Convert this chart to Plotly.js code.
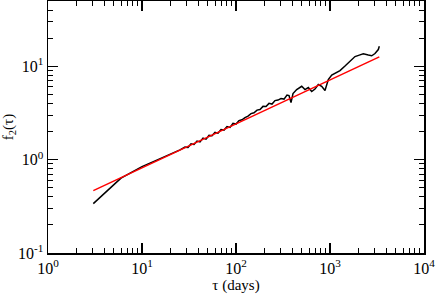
<!DOCTYPE html>
<html>
<head>
<meta charset="utf-8">
<script src="https://cdn.plot.ly/plotly-3.0.1.min.js"></script>
<style>
  html, body { margin: 0; padding: 0; background: #fff; }
  #chart { width: 436px; height: 300px; }
</style>
</head>
<body>
<div id="chart"></div>
<script>
// measured structure function f2(tau)
var tauData = [3.033, 3.488, 4.041, 4.566, 5.162, 5.978, 7.098, 8.424, 10.0, 12.16,
    14.80, 18.00, 21.90, 25.37, 28.67, 30.86, 33.21, 35.74, 38.47, 41.40,
    44.56, 47.96, 51.62, 55.55, 59.78, 64.35, 69.25, 74.53, 80.22, 86.34,
    92.92, 100.0, 107.6, 115.8, 124.7, 134.2, 144.4, 155.4, 167.3, 180.0,
    193.8, 208.5, 224.4, 241.5, 259.9, 279.8, 301.1, 324.1, 348.8, 366.3,
    384.7, 404.0, 442.3, 468.0, 499.9, 542.0, 587.6, 638.9, 692.5, 750.9,
    815.9, 884.7, 959.2, 1043, 1130, 1278, 1444, 1632, 1845, 2085,
    2261, 2555, 2777, 3011, 3265, 3346];
var f2Data = [0.3376, 0.382, 0.4375, 0.4949, 0.5531, 0.6335, 0.6993, 0.772, 0.8414, 0.9173,
    1.0, 1.082, 1.189, 1.270, 1.361, 1.351, 1.473, 1.455, 1.579, 1.548,
    1.700, 1.659, 1.817, 1.799, 1.957, 1.923, 2.097, 2.072, 2.258, 2.214,
    2.443, 2.402, 2.618, 2.671, 2.819, 2.925, 3.112, 3.174, 3.393, 3.435,
    3.717, 3.699, 4.004, 3.935, 4.290, 4.343, 4.507, 4.451, 4.913, 4.853,
    4.083, 5.098, 5.627, 5.839, 6.105, 5.627, 5.912, 5.356, 5.696, 6.367,
    6.105, 5.490, 7.201, 8.049, 8.456, 8.993, 10.05, 11.31, 12.71, 13.25,
    13.58, 13.18, 12.96, 13.68, 15.10, 16.35];

// power-law fit
var tauFit = [3.033, 3346];
var f2Fit = [0.4653, 12.61];

var xTickVals = [1, 10, 100, 1000, 10000];
var xTickText = ['10<sup>0</sup>', '10<sup>1</sup>', '10<sup>2</sup>', '10<sup>3</sup>', '10<sup>4</sup>'];
var yTickVals = [0.1, 1, 10];
var yTickText = ['10<sup>-1</sup>', '10<sup>0</sup>', '10<sup>1</sup>'];

var FONT = 'Liberation Serif, Times New Roman, serif';

var data = [
    {
        x: tauData,
        y: f2Data,
        mode: 'lines',
        line: { color: '#000000', width: 1.5 },
        showlegend: false
    },
    {
        x: tauFit,
        y: f2Fit,
        mode: 'lines',
        line: { color: '#ff0000', width: 1.5 },
        showlegend: false
    }
];

function axisStyle() {
    return {
        type: 'log',
        showgrid: false,
        zeroline: false,
        showline: true,
        linecolor: '#000',
        linewidth: 1.5,
        mirror: 'allticks',
        ticks: 'inside',
        ticklen: 10,
        tickwidth: 1.2,
        tickcolor: '#000',
        tickmode: 'array',
        tickfont: { family: FONT, size: 16, color: '#000' },
        minor: {
            ticks: 'inside',
            ticklen: 5,
            tickwidth: 1,
            tickcolor: '#000',
            dtick: 'D1',
            showgrid: false
        }
    };
}

var xaxis = axisStyle();
xaxis.range = [0, 4];
xaxis.tickvals = xTickVals;
xaxis.ticktext = xTickText;
xaxis.title = { text: 'τ (days)', font: { family: FONT, size: 15, color: '#000' }, standoff: 4 };

var yaxis = axisStyle();
yaxis.range = [-1, Math.log10(50)];
yaxis.tickvals = yTickVals;
yaxis.ticktext = yTickText;
yaxis.title = { text: 'f<sub>2</sub>(τ)', font: { family: FONT, size: 15, color: '#000' }, standoff: 2 };

var layout = {
    width: 436,
    height: 300,
    margin: { l: 48, r: 12, t: 1, b: 47 },
    paper_bgcolor: '#fff',
    plot_bgcolor: '#fff',
    font: { family: FONT, color: '#000' },
    xaxis: xaxis,
    yaxis: yaxis
};

Plotly.newPlot('chart', data, layout, { displayModeBar: false, staticPlot: true });
</script>
</body>
</html>
